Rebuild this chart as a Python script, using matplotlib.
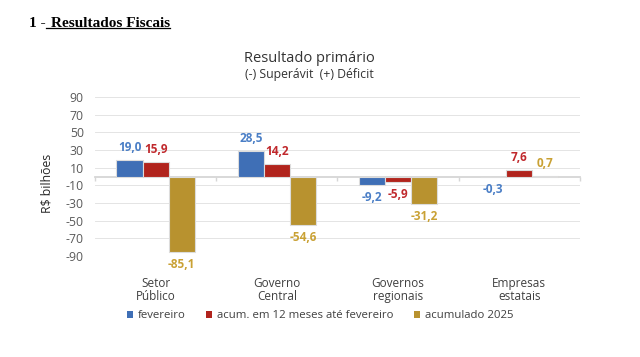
import numpy as np
import matplotlib
matplotlib.use("Agg")
import matplotlib.pyplot as plt
import matplotlib.transforms as mtransforms
from matplotlib.patches import Patch
from matplotlib.lines import Line2D

plt.rcParams['font.family'] = ['Open Sans', 'DejaVu Sans']

# data (R$ bilhões)
categorias = ['Setor\nPúblico', 'Governo\nCentral', 'Governos\nregionais', 'Empresas\nestatais']
fevereiro = [19.0, 28.5, -9.2, -0.3]
acum_12m = [15.9, 14.2, -5.9, 7.6]
acum_2025 = [-85.1, -54.6, -31.2, 0.7]
series_nomes = ['fevereiro', 'acum. em 12 meses até fevereiro', 'acumulado 2025']
yticks = [-90, -70, -50, -30, -10, 10, 30, 50, 70, 90]

cores_barra = ['#3f6fb6', '#b1241d', '#b8922f']
cores_rotulo = ['#4a7ec6', '#c0282c', '#c9a134']

fig = plt.figure(figsize=(6.4, 3.57), dpi=100)
ax = fig.add_axes([0.1484, 0.2829, 0.7578, 0.4454])

x = np.arange(len(categorias))
w = 0.215
series = [fevereiro, acum_12m, acum_2025]
for i, vals in enumerate(series):
    pos = x + (i - 1) * w
    ax.bar(pos, vals, width=w, color=cores_barra[i], edgecolor='#dcdcdc',
           linewidth=0.8, zorder=3)
    for xp, v in zip(pos, vals):
        off = 9 if v >= 0 else -9
        ax.annotate(f"{v:.1f}".replace('.', ','), (xp, v), xytext=(0, off),
                    textcoords='offset points', ha='center', va='center',
                    fontsize=8.5, fontweight='bold', color=cores_rotulo[i],
                    annotation_clip=False)

ax.set_xlim(-0.5, len(categorias) - 0.5)
ax.set_ylim(-90, 90)
ax.set_yticks(yticks)
ax.set_yticklabels([str(t) for t in yticks])
ax.yaxis.grid(True, color='#e4e4e4', linewidth=0.7)
ax.set_axisbelow(True)
ax.tick_params(axis='y', length=0, pad=8, labelsize=8.8, labelcolor='#595959')

# category axis drawn at zero, with boundary ticks
for s in ['top', 'right', 'left']:
    ax.spines[s].set_visible(False)
ax.spines['bottom'].set_position(('data', 0))
ax.spines['bottom'].set_color('#d6d6d6')
ax.spines['bottom'].set_linewidth(1.3)
ax.spines['bottom'].set_zorder(2)
ax.set_xticks(np.arange(len(categorias) + 1) - 0.5)
ax.set_xticklabels([])
ax.tick_params(axis='x', direction='out', length=3, color='#d6d6d6', width=1)

trans = mtransforms.blended_transform_factory(ax.transData, fig.transFigure)
for xi, nome in zip(x, categorias):
    ax.text(xi, 0.189, nome, transform=trans, ha='center', va='center',
            fontsize=8.5, color='#404040', linespacing=1.0)

fig.text(0.0734, 0.4874, 'R$ bilhões', rotation=90, ha='center', va='center',
         fontsize=8.8, color='#262626')

fig.text(0.483, 0.8367, 'Resultado primário', ha='center', va='center',
         fontsize=10.5, color='#333333')
fig.text(0.484, 0.792, '(-) Superávit  (+) Déficit', ha='center', va='center',
         fontsize=8.8, color='#333333')

handles = [Patch(facecolor=c, edgecolor='none') for c in cores_barra]
fig.legend(handles, series_nomes, loc='center', bbox_to_anchor=(0.5, 0.115),
           ncol=3, frameon=False, fontsize=8.2, handlelength=0.55,
           handleheight=0.55, handletextpad=0.4, columnspacing=1.8,
           labelcolor='#404040')

# header with underlined part
t1 = fig.text(29 / 640, 0.9347, '1 -', ha='left', va='center', fontsize=11,
              fontweight='bold', family='Liberation Serif', color='black')
r = fig.canvas.get_renderer()
bb1 = t1.get_window_extent(r).transformed(fig.transFigure.inverted())
t2 = fig.text(bb1.x1 + 0.008, 0.9347, 'Resultados Fiscais', ha='left', va='center',
              fontsize=11, fontweight='bold', family='Liberation Serif', color='black')
bb2 = t2.get_window_extent(r).transformed(fig.transFigure.inverted())
fig.add_artist(Line2D([bb1.x1 + 0.001, bb2.x1], [bb2.y0 + 0.004, bb2.y0 + 0.004],
                      transform=fig.transFigure, color='black', linewidth=0.9))

fig.savefig('out.png', dpi=100)
